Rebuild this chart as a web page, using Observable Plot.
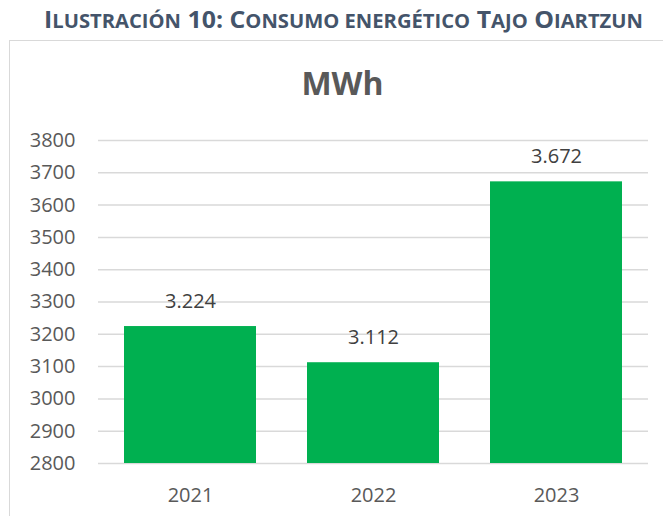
<!DOCTYPE html>
<html>
<head>
<meta charset="utf-8">
<script src="https://cdn.jsdelivr.net/npm/d3@7"></script>
<script src="https://cdn.jsdelivr.net/npm/@observablehq/plot@0.6"></script>
<style>
  body { margin: 0; background: #fff; font-family: "Open Sans", sans-serif; }
  #wrap { position: relative; width: 663px; height: 516px; overflow: hidden; }
  #header { position: absolute; left: 44px; top: 0px; white-space: nowrap; transform-origin: 0 0;
    font-weight: bold; color: #44546A; font-size: 24px; line-height: 24px; }
  #header .sc { font-size: 19.5px; }
  #chart { position: absolute; left: 9px; top: 40px; width: 700px; height: 480px;
    border-left: 1.5px solid #d9d9d9; border-top: 1.5px solid #d9d9d9; }
  #title { position: absolute; left: 0; width: 685px; top: 63px; text-align: center;
    font-weight: bold; font-size: 32px; color: #595959; line-height: 40px; }
  #plot { position: absolute; left: 9px; top: 41px; }
</style>
</head>
<body>
<div id="wrap">
  <div id="header">I<span class="sc">LUSTRACIÓN</span> 10: C<span class="sc">ONSUMO ENERGÉTICO</span> T<span class="sc">AJO</span> O<span class="sc">IARTZUN</span></div>
  <div id="chart"></div>
  <div id="title">MWh</div>
  <div id="plot"></div>
</div>
<script>
const years = ["2021", "2022", "2023"];
const values = [3224, 3112, 3672];
const yTicks = [2800, 2900, 3000, 3100, 3200, 3300, 3400, 3500, 3600, 3700, 3800];
const baseline = 2800;

// fit header text to reference width
const hdr = document.getElementById("header");
const w = hdr.getBoundingClientRect().width;
hdr.style.transform = `translateY(7px) scaleX(${599 / w})`;

const data = years.map((y, i) => ({year: y, value: values[i]}));
const fmt = v => d3.format(",")(v).replace(/,/g, ".");

const chart = Plot.plot({
  width: 654,
  height: 475,
  marginLeft: 89,
  marginRight: 15,
  marginTop: 99,
  marginBottom: 53,
  style: { fontFamily: "Open Sans, sans-serif", fontSize: "20px", color: "#595959", background: "transparent" },
  x: { domain: years, paddingInner: 0.28, paddingOuter: 0.14, label: null, tickSize: 0, tickPadding: 24 },
  y: { domain: [2800, 3800], ticks: yTicks, label: null, tickSize: 0, tickPadding: 23, tickFormat: d => String(d) },
  marks: [
    Plot.gridY(yTicks, { stroke: "#d9d9d9", strokeOpacity: 1, strokeWidth: 1.5 }),
    Plot.barY(data, { x: "year", y1: baseline, y2: "value", fill: "#00B050" }),
    Plot.text(data, { x: "year", y: "value", text: d => fmt(d.value), dy: -25, fill: "#404040", fontSize: 20 })
  ]
});
document.getElementById("plot").appendChild(chart);
</script>
</body>
</html>
